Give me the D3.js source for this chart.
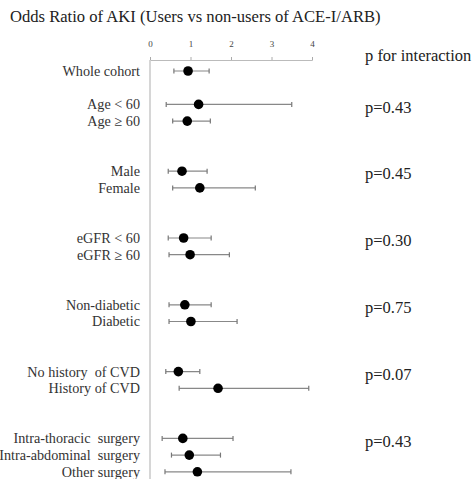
<!DOCTYPE html>
<html><head><meta charset="utf-8">
<script src="https://cdn.jsdelivr.net/npm/d3@7"></script>
<style>body{margin:0;background:#fff}svg{display:block}</style>
</head><body>
<script>
// Rows (empty string = spacer row)
const labels = ["Whole cohort","", "Age < 60","Age \u2265 60","","", "Male","Female","","", "eGFR < 60","eGFR \u2265 60","","",
  "Non-diabetic","Diabetic","","", "No history  of CVD","History of CVD","","",
  "Intra-thoracic  surgery","Intra-abdominal  surgery","Other surgery"];
const subgroups = ["Whole cohort","Age < 60","Age \u2265 60","Male","Female","eGFR < 60","eGFR \u2265 60",
  "Non-diabetic","Diabetic","No history  of CVD","History of CVD",
  "Intra-thoracic  surgery","Intra-abdominal  surgery","Other surgery"];
const oddsRatio = [0.94,1.20,0.92,0.79,1.23,0.83,0.99,0.86,1.01,0.70,1.68,0.81,0.97,1.17];
const ciLow     = [0.59,0.40,0.56,0.45,0.56,0.45,0.47,0.47,0.47,0.39,0.72,0.30,0.53,0.37];
const ciHigh    = [1.46,3.50,1.49,1.41,2.60,1.51,1.96,1.51,2.15,1.23,3.92,2.05,1.74,3.48];
const pValues   = ["p=0.43","p=0.45","p=0.30","p=0.75","p=0.07","p=0.43"];
const pGroupFirst = ["Age < 60","Male","eGFR < 60","Non-diabetic","No history  of CVD","Intra-thoracic  surgery"];
const xTicks = [0,1,2,3,4];

const W=474,H=479;
const svg=d3.select("body").append("svg").attr("width",W).attr("height",H);
const serif="'Liberation Serif','Times New Roman',serif";

const x=d3.scaleLinear().domain([0,4]).range([150,312]);
const y=d3.scalePoint().domain(d3.range(labels.length)).range([71,471.8]);
const rowOf = s => labels.indexOf(s);

svg.append("text").attr("x",10).attr("y",22).attr("font-family",serif).attr("font-size",16.6)
  .attr("fill","#222").text("Odds Ratio of AKI (Users vs non-users of ACE-I/ARB)");

// axis
const axis=d3.axisTop(x).tickValues(xTicks).tickSize(3).tickPadding(10).tickFormat(d3.format("d"));
const ag=svg.append("g").attr("transform","translate(0,60)").call(axis);
ag.select(".domain").attr("stroke","#bbb");
ag.selectAll(".tick line").attr("stroke","#aaa");
ag.selectAll(".tick text").attr("font-family",serif).attr("font-size",9).attr("fill","#444");

// reference line at 0
svg.append("line").attr("x1",x(0)).attr("x2",x(0)).attr("y1",60).attr("y2",H)
  .attr("stroke","#ccc").attr("stroke-width",1.6);

svg.append("text").attr("x",365).attr("y",61).attr("font-family",serif).attr("font-size",16.5)
  .attr("fill","#222").text("p for interaction");

// labels
svg.append("g").selectAll("text").data(subgroups).join("text")
  .attr("x",140).attr("y",d=>y(rowOf(d))).attr("dy","0.35em").attr("text-anchor","end")
  .attr("font-family",serif).attr("font-size",14.2).attr("fill","#333")
  .attr("xml:space","preserve").style("white-space","pre").text(d=>d);

// CI lines
const g=svg.append("g");
subgroups.forEach((s,i)=>{
  const yy=y(rowOf(s));
  g.append("line").attr("x1",x(ciLow[i])).attr("x2",x(ciHigh[i])).attr("y1",yy).attr("y2",yy)
    .attr("stroke","#888").attr("stroke-width",1.2);
  [ciLow[i],ciHigh[i]].forEach(v=>{
    g.append("line").attr("x1",x(v)).attr("x2",x(v)).attr("y1",yy-2.5).attr("y2",yy+2.5)
      .attr("stroke","#777").attr("stroke-width",1.2);
  });
  g.append("circle").attr("cx",x(oddsRatio[i])).attr("cy",yy).attr("r",4.8).attr("fill","#000");
});

// p values
svg.append("g").selectAll("text").data(pValues).join("text")
  .attr("x",365).attr("y",(d,i)=>y(rowOf(pGroupFirst[i]))+(y.step()*0.15))
  .attr("dy","0.35em").attr("font-family",serif).attr("font-size",16.5).attr("fill","#222").text(d=>d);
</script>
</body></html>
